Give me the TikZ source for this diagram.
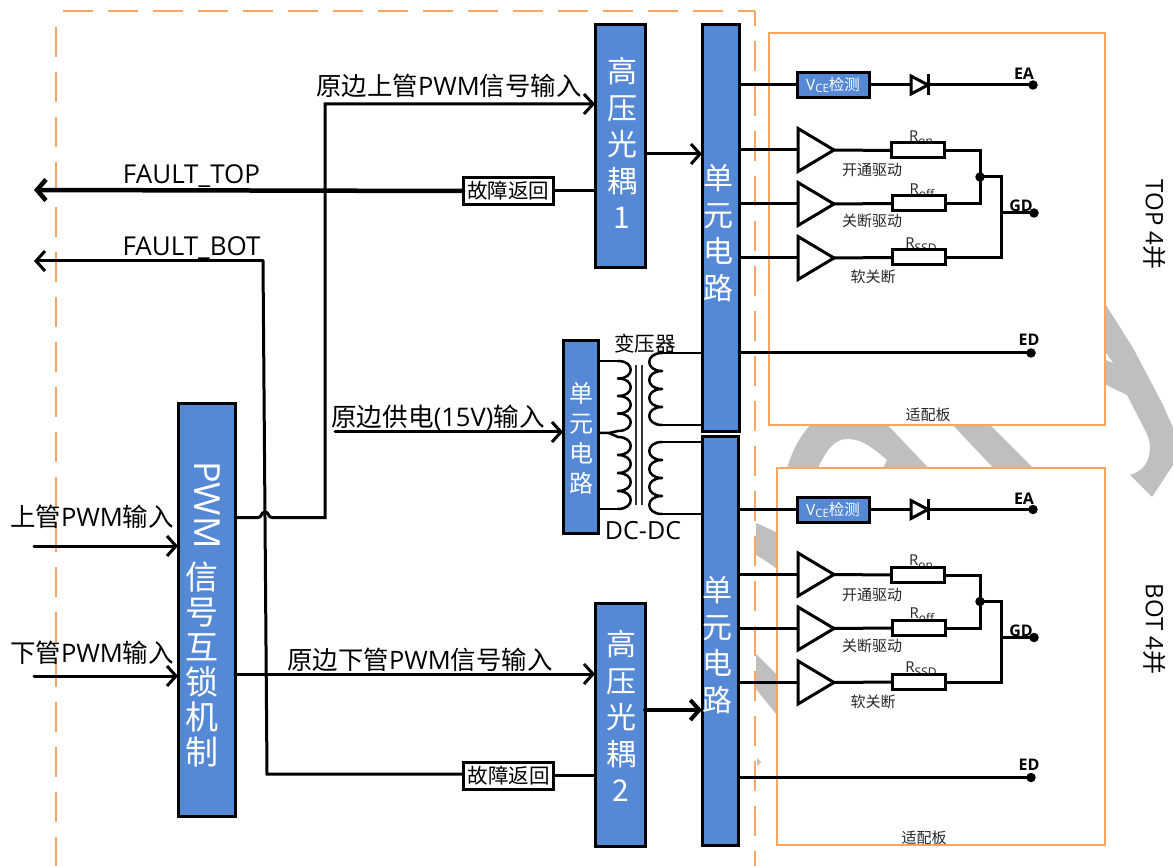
\documentclass[tikz,border=0pt]{standalone}
\usepackage{fontspec}
\setmainfont{Open Sans}
\newfontfamily\cjk{Noto Sans CJK SC}
\usetikzlibrary{arrows.meta,shapes.geometric}
\newcommand\fs[1]{\fontsize{#1pt}{#1pt}\selectfont}
\newcommand\zh[1]{{\cjk #1}}
\definecolor{boxblue}{HTML}{5589D5}
\definecolor{orangeline}{HTML}{F8A662}
\definecolor{wmgray}{HTML}{BFBFBF}
\tikzset{
  bluebox/.style={draw=black,line width=3pt,fill=boxblue,inner sep=0pt,outer sep=0pt},
  stack/.style={text=white,align=center,inner sep=0pt},
  txt/.style={inner sep=0pt,outer sep=0pt,text=black},
  smalltext/.style={inner sep=0pt,outer sep=0pt,text=black!85,font=\cjk\fs{15}},
  wire/.style={line width=3pt,draw=black},
  thinwire/.style={line width=2.5pt,draw=black},
  barb/.style={-{Straight Barb[length=9pt,width=20pt]},line cap=round},
  faultbox/.style={draw=black,line width=3pt,fill=white,inner sep=0pt,outer sep=0pt,minimum width=90pt,minimum height=27pt,font=\cjk\fs{20.5}},
  resbox/.style={draw=black,line width=3pt,fill=white,inner sep=0pt,outer sep=0pt,minimum width=53pt,minimum height=15pt},
  ampnode/.style={shape=isosceles triangle,isosceles triangle stretches,draw=black,line width=3pt,fill=white,inner sep=0pt,outer sep=0pt,minimum width=43pt,minimum height=36pt,anchor=apex},
  dotnode/.style={circle,fill=black,inner sep=0pt,outer sep=0pt,minimum size=9.5pt},
  pinlab/.style={inner sep=0pt,outer sep=0pt,font=\bfseries\fs{16}},
  board/.style={draw=orangeline,line width=2pt,fill=white,inner sep=0pt,outer sep=0pt},
}
% one coil: x of the cusps, y of the start, pitch, bulge, number of turns
\newcommand\coilturns[5]{%
  \foreach \k in {1,...,#5}{%
    \draw[thinwire,line cap=round] (#1,{#2+(\k-1)*#3}) .. controls ({#1+#4},{#2+(\k-1)*#3}) and ({#1+#4},{#2+\k*#3}) .. (#1,{#2+\k*#3});
  }%
}
% gate-drive block on a board
\newcommand\gateblock[2]{%
\begin{scope}[shift={(0,#2)},name prefix=#1-]
  \node[bluebox,minimum width=72pt,minimum height=25pt,text=white] (vce) at (833,85) {\fs{15.5}V\raisebox{-2pt}{\fs{11.5}CE}\zh{检测}};
  \node[dotnode] (ea) at (1033,85) {};
  \node[pinlab,anchor=base] (ealab) at (1024,80) {EA};
  \coordinate (dbar) at (928,85);
  \draw[wire] (unit.east |- vce) -- (vce.west);
  \draw[wire] (vce.east) -- (ea.center);
  \node[shape=isosceles triangle,isosceles triangle stretches,draw=black,line width=3pt,fill=white,inner sep=0pt,outer sep=0pt,minimum width=18pt,minimum height=17pt,anchor=apex] (diode) at (dbar) {};
  \draw[line width=3pt] (928,74.5) -- (928,95);
  \node[txt,text=black!85,font=\fs{15}] (ronlab) at (921,138) {R\raisebox{-4pt}{\fs{12}on}};
  \node[txt,text=black!85,font=\fs{15}] (rofflab) at (922,191) {R\raisebox{-4pt}{\fs{12}off}};
  \node[txt,text=black!85,font=\fs{15}] (rssdlab) at (921,245) {R\raisebox{-4pt}{\fs{12}SSD}};
  \node[ampnode] (a1) at (834,150) {};
  \node[ampnode] (a2) at (834,204) {};
  \node[ampnode] (a3) at (834,258) {};
  \node[resbox] (ron) at (917.5,150.5) {};
  \node[resbox] (roff) at (918.5,203.5) {};
  \node[resbox] (rssd) at (918.5,257.5) {};
  \node[smalltext] (l1) at (872,170) {开通驱动};
  \node[smalltext] (l2) at (872,221) {关断驱动};
  \node[smalltext] (l3) at (873,277) {软关断};
  \coordinate (join) at (980,177);
  \node[dotnode] (jdot) at (join) {};
  \node[dotnode] (gd) at (1034,213) {};
  \node[pinlab,anchor=base] (gdlab) at (1021,212) {GD};
  \node[dotnode] (ed) at (1031,353) {};
  \node[pinlab,anchor=base] (edlab) at (1029,346) {ED};
  \draw[wire] (unit.east |- a1.lower side) -- (a1.lower side);
  \draw[wire] (unit.east |- a2.lower side) -- (a2.lower side);
  \draw[wire] (unit.east |- a3.lower side) -- (a3.lower side);
  \draw[wire] (a1.apex) -- (ron.west);
  \draw[wire] (a2.apex) -- (roff.west);
  \draw[wire] (a3.apex) -- (rssd.west);
  \draw[wire] (ron.east) -| (join);
  \draw[wire] (roff.east) -| (join);
  \draw[wire] (join) -- (1001,177) |- (rssd.east);
  \draw[wire] (1001,213) -- (gd.center);
  \draw[wire] (unit.east |- ed) -- (ed.center);
\end{scope}}
\begin{document}
\begin{tikzpicture}[x=1pt,y=-1pt]
\useasboundingbox (0,0) rectangle (1173,866);
\begin{scope}
\clip (0,0) rectangle (1173,866);
% watermark
\fill[wmgray] (1100,295) -- (1106,305) -- (1133,348) -- (1162,403) -- (1175,432) -- (1175,462) -- (1152,497) -- (1130,475)
  .. controls (1143,471) and (1150,462) .. (1150,447) .. controls (1150,441) and (1148,436) .. (1145,430) -- (1127,395) -- (1100,382) -- cycle;
\fill[white] (1100,345) -- (1106,353) -- (1113,363) -- (1106,360) -- (1100,357) -- cycle;
\fill[wmgray] (785,475) .. controls (792,450) and (800,435) .. (815,420) -- (883,420) -- (935,475) -- (880,475) -- (887,460)
  .. controls (870,445) and (860,439) .. (847,439) .. controls (835,439) and (825,450) .. (815,475) -- cycle;
\fill[wmgray] (948,420) -- (1000,475) -- (1040,475) -- (985,420) -- cycle;
\fill[wmgray] (756,523) .. controls (765,527) and (772,530) .. (785,537) -- (785,575) .. controls (772,565) and (765,560) .. (756,555) -- cycle;
\fill[wmgray] (756,654) -- (785,683) -- (785,725) -- (756,689) -- cycle;
\fill[wmgray] (757,758) -- (761,762) -- (757,766) -- cycle;
\end{scope}
% dashed outline
\draw[orangeline,line width=2pt,dash pattern=on 30pt off 15pt] (63,11) -- (755,11);
\draw[orangeline,line width=2pt,dash pattern=on 30pt off 15pt,dash phase=15pt] (755,11) -- (755,866);
\draw[orangeline,line width=2pt,dash pattern=on 30pt off 15pt] (56,27) -- (56,866);
% boards
\node[board,minimum width=336pt,minimum height=392pt] (board1) at (937,229) {};
\node[board,minimum width=328pt,minimum height=377pt] (board2) at (941,656.5) {};
\node[smalltext] (board1lab) at (928,415) {适配板};
\node[smalltext] (board2lab) at (924,838) {适配板};
% blue blocks
\node[bluebox,minimum width=57pt,minimum height=412pt] (pwm) at (206.5,610) {};
\node[bluebox,minimum width=50pt,minimum height=243pt] (gao1) at (620,146.5) {};
\node[bluebox,minimum width=50pt,minimum height=243pt] (gao2) at (620,724.5) {};
\node[bluebox,minimum width=37pt,minimum height=407pt] (T-unit) at (720.5,228.5) {};
\node[bluebox,minimum width=36pt,minimum height=408pt] (B-unit) at (720,641) {};
\node[bluebox,minimum width=35pt,minimum height=192pt] (small) at (580.5,437) {};
\node[stack,font=\fs{36},rotate=-90] (pwmtxt) at (207,505) {PWM};
\node[stack,font=\cjk\fontsize{33pt}{35pt}\selectfont] (pwmzh) at (202,664.5) {信\\号\\互\\锁\\机\\制};
\node[stack,font=\cjk\fontsize{30pt}{36.5pt}\selectfont] (gao1txt) at (622,143) {高\\压\\光\\耦\\1};
\node[stack,font=\cjk\fontsize{30pt}{36.5pt}\selectfont] (gao2txt) at (621,716) {高\\压\\光\\耦\\2};
\node[stack,font=\cjk\fontsize{30pt}{36.5pt}\selectfont] (unit1txt) at (718,233) {单\\元\\电\\路};
\node[stack,font=\cjk\fontsize{30pt}{36.5pt}\selectfont] (unit2txt) at (717,645) {单\\元\\电\\路};
\node[stack,font=\cjk\fontsize{24pt}{30pt}\selectfont] (smalltxt) at (581,438) {单\\元\\电\\路};
% fault boxes
\node[faultbox] (fault1) at (508,191) {故障返回};
\node[faultbox] (fault2) at (508.5,775.5) {故障返回};
% free ends and labels
\coordinate (ftop) at (34,190);
\coordinate (fbot) at (34,261);
\coordinate (inup) at (34,546);
\coordinate (indn) at (34,676);
\coordinate (insup) at (335,432);
\node[txt,font=\fs{25.4},anchor=center] (lab1) at (449,86) {\zh{原边上管}PWM\zh{信号输入}};
\node[txt,font=\fs{25.4},anchor=center] (lab2) at (420,660) {\zh{原边下管}PWM\zh{信号输入}};
\node[txt,font=\fs{25.6},anchor=center] (lab3) at (438,418) {\zh{原边供电}(15V)\zh{输入}};
\node[txt,font=\fs{26},anchor=base] (lab4) at (191.5,184) {FAULT\_TOP};
\node[txt,font=\fs{26},anchor=base] (lab5) at (191.5,256) {FAULT\_BOT};
\node[txt,font=\fs{25.5},anchor=center] (lab6) at (92,517) {\zh{上管}PWM\zh{输入}};
\node[txt,font=\fs{25.5},anchor=center] (lab7) at (92,653) {\zh{下管}PWM\zh{输入}};
\node[txt,font=\cjk\fs{20.5}] (lab8) at (645,344) {变压器};
\node[txt,font=\fs{25}] (lab9) at (643,531) {DC-DC};
\node[txt,font=\fs{24},rotate=-90] (lab10) at (1155,224.5) {TOP 4\zh{并}};
\node[txt,font=\fs{24},rotate=-90] (lab11) at (1155,629) {BOT 4\zh{并}};
% main connectors
\draw[line width=4.5pt,-{Straight Barb[length=9pt,width=21pt]},line cap=round] (fault1.west) -- (ftop);
\draw[wire] (gao1.west |- fault1) -- (fault1.east);
\draw[wire,barb] (263,261) -- (fbot);
\draw[wire] (263,261) -- (267,774) -- (fault2.west |- 267,774);
\draw[wire] (gao2.west |- fault2) -- (fault2.east);
\draw[wire,barb] (pwm.east |- 0,517.5) -- (258,517.5) .. controls (262,517.5) and (261,512) .. (265,512) .. controls (269,512) and (268,517.5) .. (272,517.5) -- (325,517.5) -- (325,104) -- (gao1.west |- 0,104);
\draw[wire,barb] (pwm.east |- 0,674) -- (gao2.west |- 0,674);
\draw[wire,barb] (gao1.east |- 0,154) -- (T-unit.west |- 0,154);
\draw[line width=4pt,barb] (gao2.east |- 0,710) -- (B-unit.west |- 0,710);
\draw[wire,barb] (inup) -- (pwm.west |- inup);
\draw[wire,barb] (indn) -- (pwm.west |- indn);
\draw[wire,barb] (insup) -- (small.west |- insup);
% transformer
\draw[thinwire] (small.east |- 0,361) -- (618,361);
\coilturns{618}{361}{17.5}{17}{4}
\draw[thinwire] (small.east |- 0,433) -- (609,433) -- (618,431);
\draw[thinwire] (609,433) -- (618,437);
\coilturns{618}{437}{18}{17}{4}
\draw[thinwire] (618,509) -- (small.east |- 0,509);
\draw[line width=1.4pt,black!80] (636,365) -- (636,505);
\draw[line width=1.4pt,black!80] (642,365) -- (642,505);
\draw[thinwire] (T-unit.west |- 0,353) -- (662,353);
\coilturns{662}{353}{18}{-17}{4}
\draw[thinwire] (662,425) -- (T-unit.west |- 0,425);
\draw[thinwire] (B-unit.west |- 0,442) -- (662,442);
\coilturns{662}{442}{18}{-17}{4}
\draw[thinwire] (662,514) -- (B-unit.west |- 0,514);
% drive blocks
\gateblock{T}{0}
\gateblock{B}{424.5}
\end{tikzpicture}
\end{document}
